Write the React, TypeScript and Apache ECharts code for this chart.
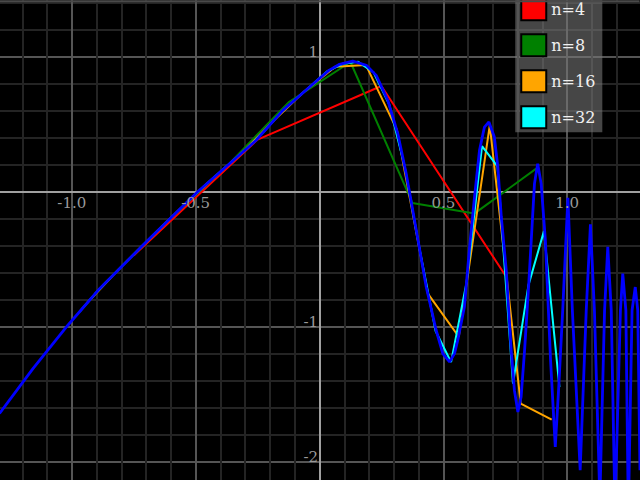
import React, { useEffect, useRef } from "react";
import * as echarts from "echarts";

// Continuous curve (x, y)
const curveX = [
  -1.292, -1.157, -1.016, -0.888, -0.693, -0.493, -0.256, -0.148, -0.04, 0.038,
  0.081, 0.134, 0.189, 0.229, 0.276, 0.316, 0.35, 0.367, 0.39, 0.431,
  0.471, 0.498, 0.525, 0.545, 0.558, 0.585, 0.606, 0.626, 0.646, 0.666,
  0.684, 0.706, 0.72, 0.734, 0.754, 0.774, 0.787, 0.801, 0.814, 0.828,
  0.845, 0.868, 0.881, 0.895, 0.912, 0.933, 0.952, 0.966, 0.982, 1.003,
  1.021, 1.0525, 1.077, 1.094, 1.11, 1.132, 1.151, 1.164, 1.178, 1.193,
  1.215, 1.2245, 1.237, 1.247, 1.262, 1.275, 1.285, 1.294,
];
const curveY = [
  -1.641, -1.308, -0.987, -0.716, -0.358, 0.0, 0.383, 0.605, 0.778, 0.901,
  0.946, 0.97, 0.939, 0.864, 0.679, 0.433, 0.136, -0.037, -0.276, -0.704,
  -1.024, -1.197, -1.259, -1.197, -1.099, -0.852, -0.407, -0.037, 0.309, 0.481,
  0.519, 0.407, 0.185, -0.185, -0.58, -1.173, -1.468, -1.63, -1.519, -1.173,
  -0.679, 0.062, 0.21, 0.062, -0.358, -1.247, -1.889, -1.444, -0.876, -0.043,
  -0.876, -2.061, -0.876, -0.239, -0.876, -2.28, -0.876, -0.407, -0.876, -2.358,
  -0.876, -0.604, -0.876, -2.395, -0.876, -0.704, -0.876, -2.061,
];

// Sampled polylines
const x4 = [-0.75, -0.25, 0.25, 0.75];
const y4 = [-0.47, 0.388, 0.785, -0.617];

const x8 = [-0.875, -0.625, -0.375, -0.125, 0.125, 0.375, 0.625, 0.875];
const y8 = [-0.69, -0.236, 0.19, 0.664, 0.963, -0.081, -0.16, 0.173];

const x16 = [
  -0.9375, -0.8125, -0.6875, -0.5625, -0.4375, -0.3125, -0.1875, -0.0625,
  0.0625, 0.1875, 0.3125, 0.4375, 0.5625, 0.6875, 0.8125, 0.9375,
];
const y16 = [
  -0.82, -0.577, -0.347, -0.124, 0.089, 0.291, 0.524, 0.742,
  0.927, 0.94, 0.46, -0.753, -1.072, 0.494, -1.567, -1.686,
];

const x32 = [
  -0.96875, -0.90625, -0.84375, -0.78125, -0.71875, -0.65625, -0.59375, -0.53125,
  -0.46875, -0.40625, -0.34375, -0.28125, -0.21875, -0.15625, -0.09375, -0.03125,
  0.03125, 0.09375, 0.15625, 0.21875, 0.28125, 0.34375, 0.40625, 0.46875,
  0.53125, 0.59375, 0.65625, 0.71875, 0.78125, 0.84375, 0.90625, 0.96875,
];
const y32 = [
  -0.887, -0.754, -0.634, -0.519, -0.404, -0.293, -0.181, -0.069,
  0.038, 0.14, 0.241, 0.341, 0.459, 0.588, 0.693, 0.793,
  0.894, 0.95, 0.964, 0.885, 0.65, 0.19, -0.443, -1.03,
  -1.26, -0.67, 0.34, 0.19, -1.42, -0.69, -0.29, -1.445,
];

const sampleNames = ["n=4", "n=8", "n=16", "n=32"];
const sampleColors = ["#ff0000", "#008000", "#ffa500", "#00ffff"];
const sampleXs = [x4, x8, x16, x32];
const sampleYs = [y4, y8, y16, y32];

// tick labels shown next to the axes through the origin
const xTickValues = [-1.0, -0.5, 0.5, 1.0];
const xTickLabels = ["-1.0", "-0.5", "0.5", "1.0"];
const yTickValues = [1, -1, -2];
const yTickLabels = ["1", "-1", "-2"];

const pairs = (xs: number[], ys: number[]) => xs.map((x, i) => [x, ys[i]]);

// the drawing area is larger than the window and offset so that the
// visible window spans x in [-1.292, 1.292] and y in [-2.136, 1.42]
const OFF_X = 51.55;
const OFF_Y = 78.3;
const FULL_W = 743.1;
const FULL_H = 675;

export default function App() {
  const ref = useRef<HTMLDivElement>(null);
  useEffect(() => {
    if (!ref.current) return;
    const chart = echarts.init(ref.current, undefined, { renderer: "svg" });
    const font = "DejaVu Serif";
    const topLine = {
      type: "rect",
      left: OFF_X,
      top: OFF_Y,
      z: 100,
      shape: { width: 640, height: 2 },
      style: { fill: "#4a4a4a" },
    };
    chart.setOption({
      animation: false,
      backgroundColor: "#000",
      grid: {
        left: 0,
        right: 0,
        top: 0,
        bottom: 0,
        containLabel: false,
        outerBoundsMode: "none",
      },
      xAxis: {
        type: "value",
        min: -1.5,
        max: 1.5,
        interval: 0.5,
        axisLine: { onZero: true, lineStyle: { color: "#a0a0a0", width: 2 } },
        axisTick: { show: false },
        axisLabel: { show: false },
        splitLine: { show: true, lineStyle: { color: "#555", width: 2 } },
        minorTick: { show: false, splitNumber: 5 },
        minorSplitLine: { show: true, lineStyle: { color: "#242424", width: 2 } },
      },
      yAxis: {
        type: "value",
        min: -3,
        max: 2,
        interval: 1,
        axisLine: { onZero: true, lineStyle: { color: "#a0a0a0", width: 2 } },
        axisTick: { show: false },
        axisLabel: { show: false },
        splitLine: { show: true, lineStyle: { color: "#555", width: 2 } },
        minorTick: { show: false, splitNumber: 5 },
        minorSplitLine: { show: true, lineStyle: { color: "#242424", width: 2 } },
      },
      legend: {
        data: sampleNames,
        orient: "vertical",
        left: 515.7 + OFF_X,
        top: -7 + OFF_Y,
        icon: "rect",
        itemWidth: 25,
        itemHeight: 22,
        itemGap: 12,
        padding: [4, 7, 3, 5],
        backgroundColor: "rgba(120,120,120,0.58)",
        itemStyle: { borderColor: "#000", borderWidth: 2 },
        textStyle: { color: "#f0f0f0", fontFamily: font, fontSize: 16 },
        selectedMode: false,
      },
      graphic: { elements: [topLine] },
      series: [
        ...sampleNames.map((name, i) => ({
          name,
          type: "line",
          data: pairs(sampleXs[i], sampleYs[i]),
          symbol: "none",
          lineStyle: { color: sampleColors[i], width: 2 },
          itemStyle: { color: sampleColors[i] },
          z: 2 + i,
        })),
        {
          name: "f",
          type: "line",
          data: pairs(curveX, curveY),
          symbol: "none",
          lineStyle: { color: "#0000ff", width: 2.8 },
          itemStyle: { color: "#0000ff" },
          z: 10,
        },
      ],
    });

    const labels: any[] = [];
    xTickValues.forEach((v, i) => {
      const p = chart.convertToPixel({ gridIndex: 0 }, [v, 0]) as number[];
      labels.push({
        type: "text",
        x: p[0],
        y: p[1] + 10.8,
        z: 50,
        style: {
          text: xTickLabels[i],
          align: "center",
          verticalAlign: "middle",
          fill: "#999",
          fontSize: 15,
          fontFamily: font,
        },
      });
    });
    yTickValues.forEach((v, i) => {
      const p = chart.convertToPixel({ gridIndex: 0 }, [0, v]) as number[];
      labels.push({
        type: "text",
        x: p[0] - 1.5,
        y: p[1] - 5.2,
        z: 50,
        style: {
          text: yTickLabels[i],
          align: "right",
          verticalAlign: "middle",
          fill: "#999",
          fontSize: 15,
          fontFamily: font,
        },
      });
    });
    chart.setOption({ graphic: { elements: [topLine, ...labels] } });
    return () => chart.dispose();
  }, []);
  return (
    <div
      style={{
        position: "fixed",
        left: 0,
        top: 0,
        width: 640,
        height: 480,
        overflow: "hidden",
        background: "#000",
      }}
    >
      <div
        ref={ref}
        style={{
          position: "absolute",
          left: -OFF_X,
          top: -OFF_Y,
          width: FULL_W,
          height: FULL_H,
        }}
      />
    </div>
  );
}
